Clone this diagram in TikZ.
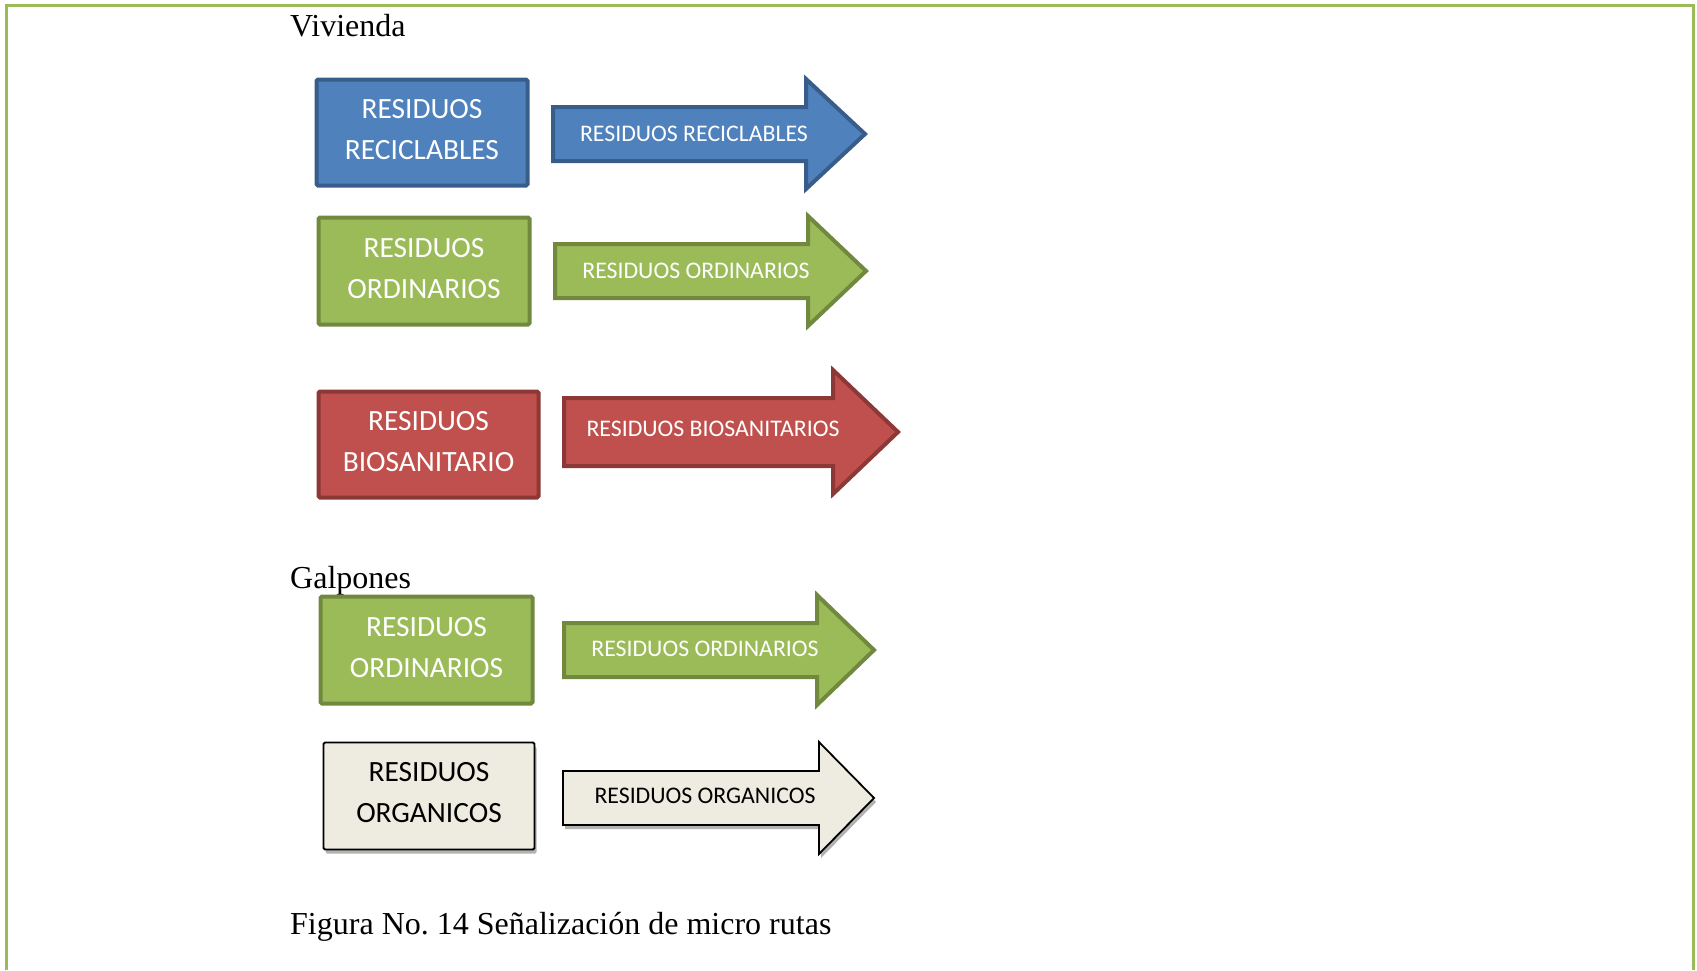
\documentclass[tikz,border=0pt]{standalone}
\usepackage{fontspec}
\setmainfont{Liberation Serif}
\newfontfamily\calibri{Carlito}
\usetikzlibrary{shadows}
\definecolor{bluefill}{HTML}{4F81BD}
\definecolor{blueline}{HTML}{385D8A}
\definecolor{greenfill}{HTML}{9BBB59}
\definecolor{greenline}{HTML}{71893F}
\definecolor{redfill}{HTML}{C0504D}
\definecolor{redline}{HTML}{8C3836}
\definecolor{orgfill}{HTML}{EEECE1}
\definecolor{pageline}{HTML}{9BBB59}
\frenchspacing
\begin{document}
\begin{tikzpicture}[x=1pt,y=-1pt,
  boxstyle/.style={draw, line width=4pt, rounded corners=1.5pt, inner sep=0pt},
  boxtext/.style={font=\calibri\fontsize{29.4}{41}\selectfont, align=center, text=white, inner sep=0pt},
  arrowstyle/.style={line width=4pt, line join=miter},
  arrtext/.style={font=\calibri\fontsize{23.8}{28}\selectfont, text=white, inner sep=0pt},
  heading/.style={font=\fontsize{32}{38}\selectfont, anchor=base west, inner sep=0pt},
  orgshadow/.style={drop shadow={shadow xshift=2pt, shadow yshift=-4pt, opacity=0.3, fill=black}}
]
\useasboundingbox (0,0) rectangle (1697,970);
% page frame (open at bottom)
\draw[pageline, line width=3pt] (6,970) -- (6,5.5) -- (1693.5,5.5) -- (1693.5,970);

\node[heading] (viv) at (290,36) {Vivienda};

% Row 1: reciclables
\node[boxstyle, fill=bluefill, draw=blueline, minimum width=211pt, minimum height=106pt] (b1) at (422,132.5) {};
\node[boxtext] (b1t) at (422,130) {RESIDUOS\\RECICLABLES};
\path[arrowstyle, fill=bluefill, draw=blueline] (553,107) -- (806,107) -- (806,79) -- (865,134) -- (806,189) -- (806,161) -- (553,161) -- cycle;
\node[arrtext] (a1) at (694,134) {RESIDUOS RECICLABLES};

% Row 2: ordinarios
\node[boxstyle, fill=greenfill, draw=greenline, minimum width=211pt, minimum height=107pt] (b2) at (424,271) {};
\node[boxtext] (b2t) at (424,268.5) {RESIDUOS\\ORDINARIOS};
\path[arrowstyle, fill=greenfill, draw=greenline] (555,244) -- (808,244) -- (808,216) -- (866,271) -- (808,326) -- (808,298) -- (555,298) -- cycle;
\node[arrtext] (a2) at (696,271) {RESIDUOS ORDINARIOS};

% Row 3: biosanitarios
\node[boxstyle, fill=redfill, draw=redline, minimum width=220pt, minimum height=106pt] (b3) at (428.5,444.5) {};
\node[boxtext] (b3t) at (428.5,442) {RESIDUOS\\BIOSANITARIO};
\path[arrowstyle, fill=redfill, draw=redline] (564,398) -- (833,398) -- (833,370) -- (898,432) -- (833,494) -- (833,466) -- (564,466) -- cycle;
\node[arrtext] (a3) at (713,429) {RESIDUOS BIOSANITARIOS};

\node[heading] (galp) at (290,588) {Galpones};

% Row 4: ordinarios (galpones)
\node[boxstyle, fill=greenfill, draw=greenline, minimum width=212pt, minimum height=107pt] (b4) at (426.5,650) {};
\node[boxtext] (b4t) at (426.5,648) {RESIDUOS\\ORDINARIOS};
\path[arrowstyle, fill=greenfill, draw=greenline] (564,623) -- (817,623) -- (817,595) -- (874,650) -- (817,705) -- (817,677) -- (564,677) -- cycle;
\node[arrtext] (a4) at (705,649) {RESIDUOS ORDINARIOS};

% Row 5: organicos
\node[boxstyle, line width=1.8pt, fill=orgfill, draw=black, orgshadow, minimum width=211pt, minimum height=107pt] (b5) at (429,796) {};
\node[boxtext, text=black] (b5t) at (429,793) {RESIDUOS\\ORGANICOS};
\path[line width=1.8pt, fill=orgfill, draw=black, orgshadow] (563,771) -- (819,771) -- (819,742) -- (874,798) -- (819,854) -- (819,825) -- (563,825) -- cycle;
\node[arrtext, text=black] (a5) at (705,796) {RESIDUOS ORGANICOS};

\node[heading] (cap) at (290,934) {Figura No. 14 Señalización de micro rutas};
\end{tikzpicture}
\end{document}
